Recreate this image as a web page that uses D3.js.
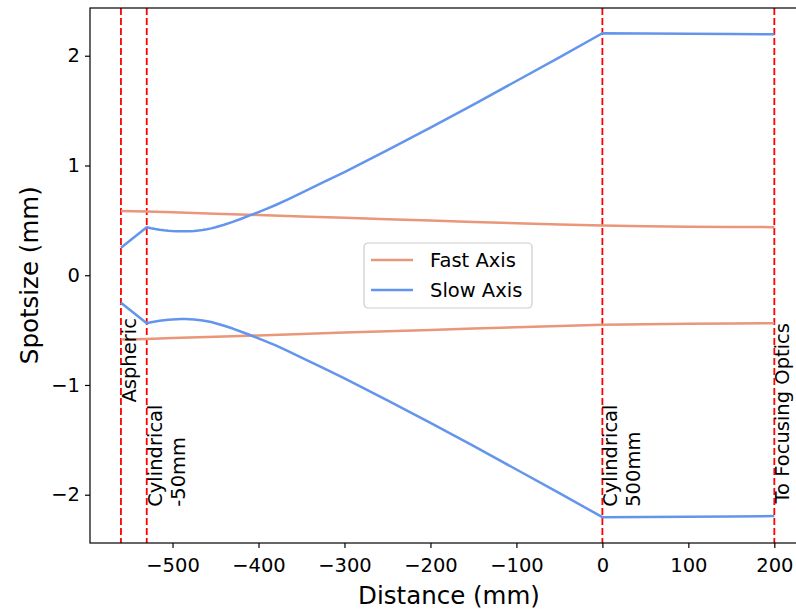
<!DOCTYPE html>
<html>
<head>
<meta charset="utf-8">
<script src="https://cdn.jsdelivr.net/npm/d3@7"></script>
<style>
  body { margin: 0; background: #fff; }
  svg { font-family: "DejaVu Sans", sans-serif; }
</style>
</head>
<body>
<svg id="chart" width="796" height="610"></svg>
<script>
// half-widths (curves are drawn at +/- value)
const fastDist = [-560, -530, -500, -450, -400, -350, -300, -250, -200, -150, -100, -50, 0, 50, 100, 150, 200];
const fastSize = [0.585, 0.58, 0.573, 0.561, 0.549, 0.536, 0.523, 0.51, 0.498, 0.486, 0.474, 0.462, 0.452, 0.446, 0.442, 0.44, 0.438];

const slowDist = [-560, -530, -525, -520, -515, -510, -505, -500, -495, -490, -485, -480, -475, -470, -465, -460, -455, -450, -440, -430, -420, -410, -400, -390, -380, -365, -350, -325, -300, -275, -250, -225, -200, -150, -100, -50, 0, 50, 100, 150, 200];
const slowSize = [0.25, 0.437, 0.428, 0.421, 0.415, 0.41, 0.406, 0.403, 0.401, 0.4, 0.4, 0.401, 0.403, 0.407, 0.412, 0.419, 0.427, 0.437, 0.46, 0.486, 0.515, 0.545, 0.575, 0.607, 0.64, 0.694, 0.75, 0.845, 0.94, 1.04, 1.14, 1.243, 1.345, 1.555, 1.77, 1.985, 2.205, 2.203, 2.2, 2.198, 2.195];

const lensPos = [-560, -530, 0, 200];
const lensLabels = [["Aspheric"], ["Cylindrical", "-50mm"], ["Cylindrical", "500mm"], ["To Focusing Optics"]];
const lensLabelY = [-1.16, -2.11, -2.11, -2.08];

const xTicks = [-500, -400, -300, -200, -100, 0, 100, 200];
const yTicks = [-2, -1, 0, 1, 2];

const seriesNames = ["Fast Axis", "Slow Axis"];
const seriesColors = ["#E9967A", "#6495ED"];

const svg = d3.select("#chart");
const margin = {top: 8, left: 90};
const plotW = 717, plotH = 535;

const x = d3.scaleLinear().domain([-596, 238]).range([margin.left, margin.left + plotW]);
const y = d3.scaleLinear().domain([-2.44, 2.435]).range([margin.top + plotH, margin.top]);

const fontSize = 19.5;

// clip for data
svg.append("clipPath").attr("id", "plot-clip")
    .append("rect")
    .attr("x", margin.left).attr("y", margin.top)
    .attr("width", plotW).attr("height", plotH);

const plot = svg.append("g").attr("clip-path", "url(#plot-clip)");

// lens markers
plot.selectAll("line.lens")
    .data(lensPos)
    .enter()
    .append("line")
    .attr("class", "lens")
    .attr("x1", d => x(d)).attr("x2", d => x(d))
    .attr("y1", margin.top).attr("y2", margin.top + plotH)
    .attr("stroke", "#ff0000")
    .attr("stroke-width", 1.8)
    .attr("stroke-dasharray", "7,3");

// curves
const fastPts = fastDist.map((d, i) => [d, fastSize[i]]);
const slowPts = slowDist.map((d, i) => [d, slowSize[i]]);
const line = d3.line().x(d => x(d[0])).y(d => y(d[1]));
const lineNeg = d3.line().x(d => x(d[0])).y(d => y(-d[1]));

[[fastPts, 0], [slowPts, 1]].forEach(([pts, k]) => {
    [line, lineNeg].forEach(gen => {
        plot.append("path")
            .datum(pts)
            .attr("d", gen)
            .attr("fill", "none")
            .attr("stroke", seriesColors[k])
            .attr("stroke-width", 2.5)
            .attr("stroke-linejoin", "round");
    });
});

// lens labels
lensPos.forEach((p, i) => {
    const t = svg.append("text")
        .attr("transform", `translate(${x(p) + 15},${y(lensLabelY[i])}) rotate(-90)`)
        .attr("font-size", fontSize)
        .attr("fill", "#000");
    lensLabels[i].forEach((s, j) => {
        t.append("tspan").attr("x", 0).attr("dy", j === 0 ? 0 : 23).text(s);
    });
});

// axes
const xAxis = svg.append("g")
    .attr("transform", `translate(0,${margin.top + plotH})`)
    .call(d3.axisBottom(x).tickValues(xTicks).tickSize(5).tickPadding(5));
const yAxis = svg.append("g")
    .attr("transform", `translate(${margin.left},0)`)
    .call(d3.axisLeft(y).tickValues(yTicks).tickFormat(d3.format("d")).tickSize(5).tickPadding(5));

[xAxis, yAxis].forEach(g => {
    g.selectAll("text").attr("font-size", fontSize).attr("font-family", "DejaVu Sans").attr("fill", "#000");
    g.select(".domain").remove();
    g.selectAll("line").attr("stroke", "#000").attr("stroke-width", 1.2);
});
xAxis.selectAll("text").attr("dy", "0.95em");

// spines
svg.append("rect")
    .attr("x", margin.left).attr("y", margin.top)
    .attr("width", plotW).attr("height", plotH)
    .attr("fill", "none").attr("stroke", "#000").attr("stroke-width", 1.2);

// axis titles
svg.append("text")
    .attr("x", 449).attr("y", 604)
    .attr("text-anchor", "middle")
    .attr("font-size", 24.5)
    .text("Distance (mm)");
svg.append("text")
    .attr("transform", `translate(38,${y(0)}) rotate(-90)`)
    .attr("text-anchor", "middle")
    .attr("font-size", 24.5)
    .text("Spotsize (mm)");

// legend
const lg = svg.append("g").attr("transform", "translate(364,243)");
lg.append("rect")
    .attr("width", 168).attr("height", 65)
    .attr("rx", 4)
    .attr("fill", "#fff").attr("fill-opacity", 0.8)
    .attr("stroke", "#cccccc").attr("stroke-width", 1.2);
seriesNames.forEach((name, i) => {
    lg.append("line")
        .attr("x1", 7).attr("x2", 49)
        .attr("y1", 17 + i * 30).attr("y2", 17 + i * 30)
        .attr("stroke", seriesColors[i]).attr("stroke-width", 2.5);
    lg.append("text")
        .attr("x", 66).attr("y", 17 + i * 30)
        .attr("dy", "0.35em")
        .attr("font-size", fontSize)
        .text(name);
});
</script>
</body>
</html>
